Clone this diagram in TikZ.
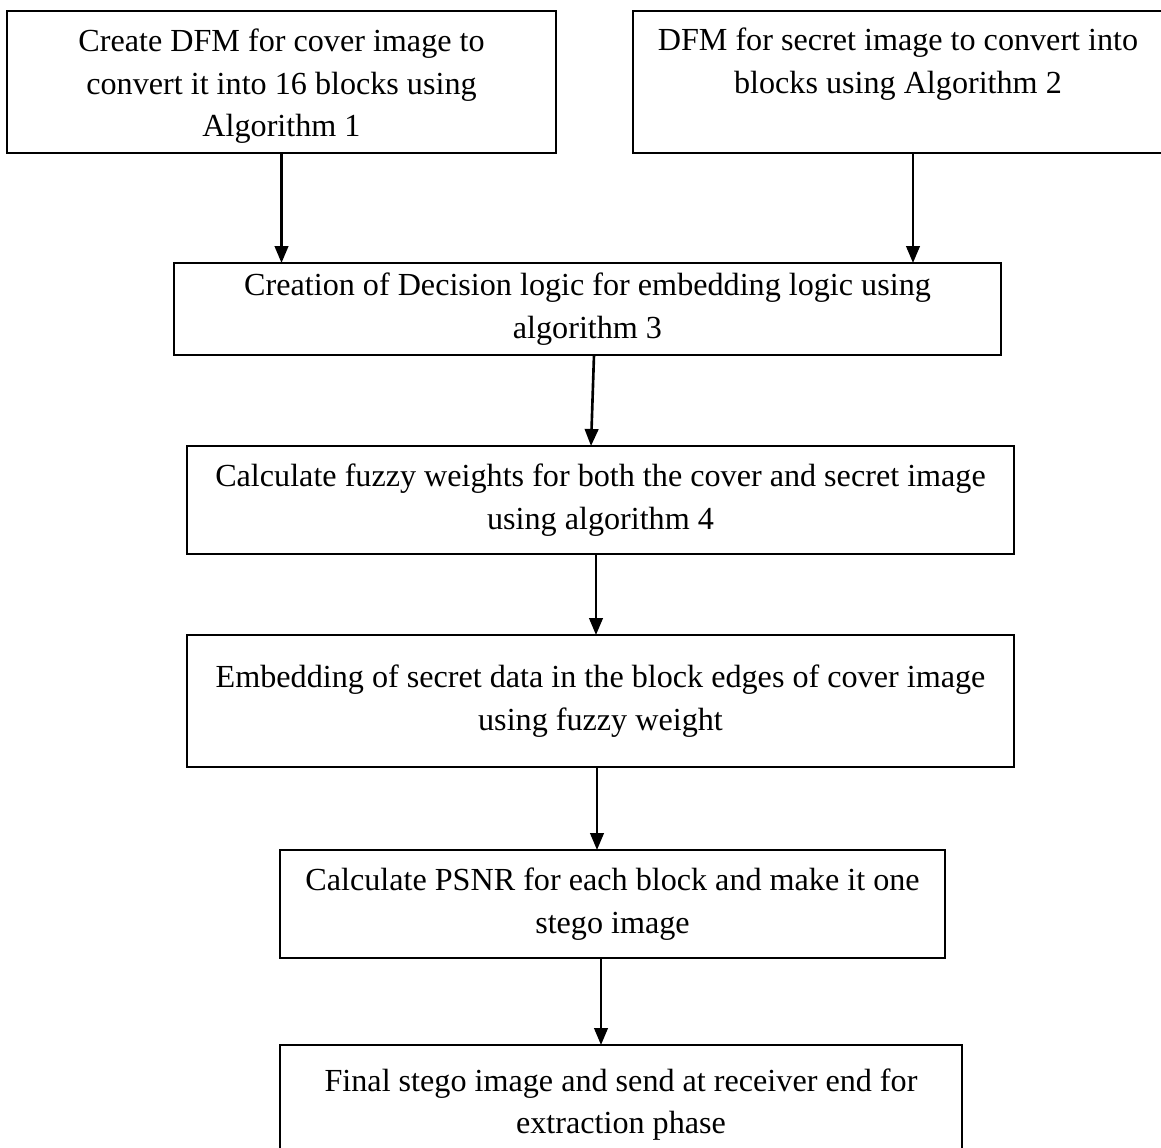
\documentclass[tikz,border=0pt]{standalone}
\usepackage{fontspec}
\setmainfont{Liberation Serif}
\usetikzlibrary{arrows.meta,positioning}

\begin{document}
\begin{tikzpicture}[
    x=0.02cm, y=-0.02cm,
    block/.style={draw, rectangle, line width=1.4pt, inner sep=0pt, outer sep=0pt, align=center, font=\fontsize{18.3}{24.2}\selectfont},
    arrow/.style={-{Triangle[length=0.34cm,width=0.27cm]}, line width=1.5pt}
]
    \useasboundingbox (0,0) rectangle (1161,1148);

    \node [block, minimum width=10.98cm, minimum height=2.84cm] (cover) at (281.5,82) {\rule{0pt}{18pt}Create DFM for cover image to\\ convert it into 16 blocks using\\ Algorithm 1};
    \node [block, minimum width=10.6cm, minimum height=2.84cm] (secret) at (898,82) {DFM for secret image to convert into\\ blocks using Algorithm 2\\ \mbox{}};
    \node [block, minimum width=16.54cm, minimum height=1.84cm] (decision) at (587.5,309) {Creation of Decision logic for embedding logic using\\ algorithm 3};
    \node [block, minimum width=16.54cm, minimum height=2.16cm] (fuzzy) at (600.5,500) {Calculate fuzzy weights for both the cover and secret image\\ using algorithm 4};
    \node [block, minimum width=16.54cm, minimum height=2.64cm] (embed) at (600.5,701) {Embedding of secret data in the block edges of cover image\\ using fuzzy weight};
    \node [block, minimum width=13.3cm, minimum height=2.16cm] (psnr) at (612.5,904) {Calculate PSNR for each block and make it one\\ stego image};
    \node [block, minimum width=13.64cm, minimum height=2.38cm] (final) at (621,1104.5) {Final stego image and send at receiver end for\\ extraction phase};

    \draw [arrow] (cover.south) -- (cover.south |- decision.north);
    \draw [arrow] ([xshift=0.3cm]secret.south) -- ([xshift=0.3cm]secret.south |- decision.north);
    \draw [arrow] ([xshift=0.13cm]decision.south) -- ([xshift=-0.19cm]fuzzy.north);
    \draw [arrow] ([xshift=-0.09cm]fuzzy.south) -- ([xshift=-0.09cm]fuzzy.south |- embed.north);
    \draw [arrow] ([xshift=-0.07cm]embed.south) -- ([xshift=-0.07cm]embed.south |- psnr.north);
    \draw [arrow] ([xshift=-0.23cm]psnr.south) -- ([xshift=-0.23cm]psnr.south |- final.north);

\end{tikzpicture}
\end{document}
